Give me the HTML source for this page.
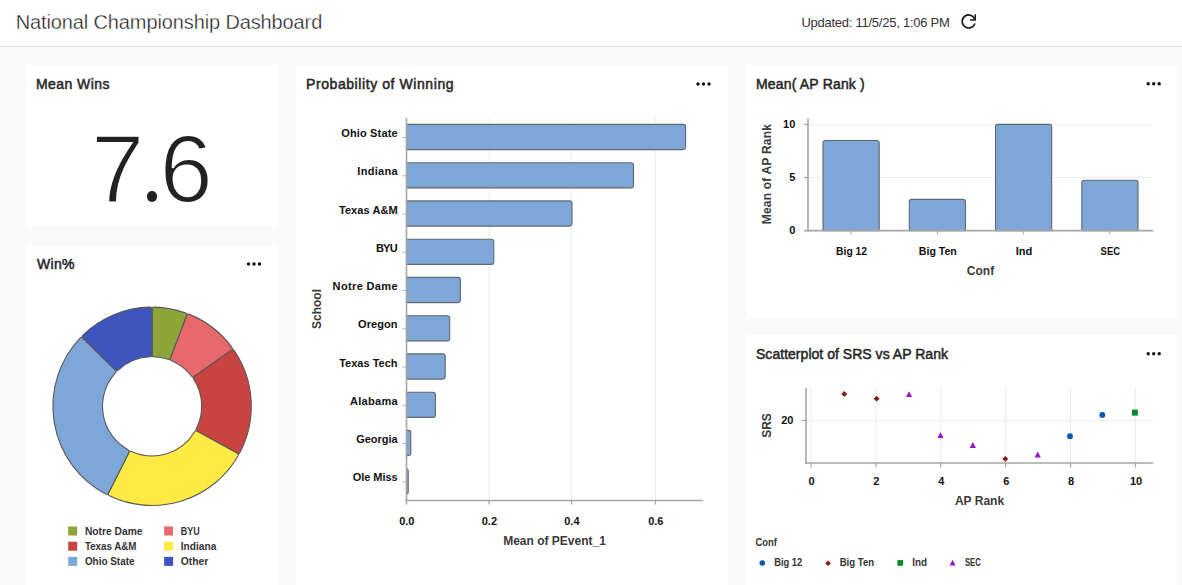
<!DOCTYPE html>
<html>
<head>
<meta charset="utf-8">
<title>National Championship Dashboard</title>
<style>
html,body{margin:0;padding:0;}
body{width:1182px;height:585px;overflow:hidden;background:#fafafa;font-family:"Liberation Sans",sans-serif;position:relative;}
.hdr{position:absolute;left:0;top:0;width:1182px;height:46px;background:#fff;border-bottom:1px solid #dedede;}
.ttl{position:absolute;left:15.7px;top:9px;font-size:20px;line-height:26px;color:#1c1c1c;white-space:nowrap;letter-spacing:-0.12px;-webkit-text-stroke:0.35px #fff;}
.upd{position:absolute;left:801.4px;top:14px;font-size:13px;line-height:18px;color:#333;white-space:nowrap;letter-spacing:-0.25px;}
.card{position:absolute;background:#fff;overflow:hidden;}
.ct{position:absolute;left:10px;top:9px;font-size:14px;line-height:20px;color:#262626;white-space:nowrap;-webkit-text-stroke:0.5px #262626;}
.big{position:absolute;top:53.5px;font-size:96px;line-height:100px;color:#222;-webkit-text-stroke:2px #fff;}
.bdot{position:absolute;left:120.9px;top:126px;width:10.6px;height:10.6px;border-radius:50%;background:#222;}
svg{position:absolute;left:0;top:0;}
svg text{font-family:"Liberation Sans",sans-serif;font-weight:bold;}
.tk{font-size:11px;fill:#111;}
.ax{font-size:12px;fill:#3a3a3a;}
.lg{font-size:10.3px;fill:#333;}
</style>
</head>
<body>
<div class="hdr">
  <div class="ttl">National Championship Dashboard</div>
  <div class="upd">Updated: 11/5/25, 1:06 PM</div>
  <svg width="1182" height="46" viewBox="0 0 1182 46">
    <g fill="none" stroke="#1a1a1a" stroke-width="1.5">
      <path d="M975.0 19.9 A6.5 6.5 0 1 0 974.9 23.4" stroke-width="1.65"/>
      <path d="M975.2 14.2 V20 H970.1"/>
    </g>
  </svg>
</div>

<!-- Card 1 -->
<div class="card" style="left:26px;top:65px;width:252px;height:162px;">
  <div class="ct" style="letter-spacing:0.43px">Mean Wins</div>
  <div class="big" style="left:65px">7</div><div class="bdot"></div><div class="big" style="left:133.5px">6</div>
</div>

<!-- Card 2 -->
<div class="card" style="left:26px;top:245px;width:252px;height:342px;">
  <div class="ct" style="letter-spacing:0.3px;left:11px">Win%</div>
  <svg id="s2" width="252" height="342" viewBox="26 245 252 342">
<path d="M154.10 307.12 A99.2 99.2 0 0 1 185.63 312.94 Q187.51 313.63 186.79 315.50 L170.52 358.10 Q169.80 359.97 167.92 359.29 A49.6 49.6 0 0 0 154.10 356.74 Q152.10 356.70 152.10 354.70 L152.10 309.10 Q152.10 307.10 154.10 307.12 Z" fill="#8ba539" stroke="#585858" stroke-width="1.1" stroke-linejoin="round"/>
<path d="M189.37 314.37 A99.2 99.2 0 0 1 231.88 347.34 Q233.05 348.96 231.42 350.12 L194.21 376.48 Q192.58 377.63 191.39 376.02 A49.6 49.6 0 0 0 171.66 360.72 Q169.80 359.97 170.52 358.10 L186.79 315.50 Q187.51 313.63 189.37 314.37 Z" fill="#e8696b" stroke="#585858" stroke-width="1.1" stroke-linejoin="round"/>
<path d="M234.19 350.61 A99.2 99.2 0 0 1 239.92 452.44 Q238.97 454.20 237.22 453.24 L197.29 431.22 Q195.53 430.25 196.46 428.48 A49.6 49.6 0 0 0 193.70 379.29 Q192.58 377.63 194.21 376.48 L231.42 350.12 Q233.05 348.96 234.19 350.61 Z" fill="#c84441" stroke="#585858" stroke-width="1.1" stroke-linejoin="round"/>
<path d="M237.98 455.94 A99.2 99.2 0 0 1 109.32 495.80 Q107.52 494.92 108.42 493.13 L128.91 452.40 Q129.81 450.61 131.62 451.47 A49.6 49.6 0 0 0 194.53 431.98 Q195.53 430.25 197.29 431.22 L237.22 453.24 Q238.97 454.20 237.98 455.94 Z" fill="#ffeb43" stroke="#585858" stroke-width="1.1" stroke-linejoin="round"/>
<path d="M105.75 494.00 A99.2 99.2 0 0 1 80.12 338.04 Q81.51 336.60 82.94 338.00 L115.38 370.04 Q116.81 371.45 115.43 372.90 A49.6 49.6 0 0 0 128.04 449.68 Q129.81 450.61 128.91 452.40 L108.42 493.13 Q107.52 494.92 105.75 494.00 Z" fill="#7da7d9" stroke="#585858" stroke-width="1.1" stroke-linejoin="round"/>
<path d="M82.93 335.19 A99.2 99.2 0 0 1 150.10 307.12 Q152.10 307.10 152.10 309.10 L152.10 354.70 Q152.10 356.70 150.10 356.74 A49.6 49.6 0 0 0 118.24 370.06 Q116.81 371.45 115.38 370.04 L82.94 338.00 Q81.51 336.60 82.93 335.19 Z" fill="#3e55be" stroke="#585858" stroke-width="1.1" stroke-linejoin="round"/>
<rect x="68.2" y="526.5" width="9" height="9" fill="#8ba539"/>
<text class="lg" x="84.9" y="534.8" textLength="57.6" lengthAdjust="spacingAndGlyphs">Notre Dame</text>
<rect x="68.2" y="541.7" width="9" height="9" fill="#c84441"/>
<text class="lg" x="84.9" y="550.0" textLength="51.6" lengthAdjust="spacingAndGlyphs">Texas A&amp;M</text>
<rect x="68.2" y="556.9" width="9" height="9" fill="#7da7d9"/>
<text class="lg" x="84.9" y="565.2" textLength="49.6" lengthAdjust="spacingAndGlyphs">Ohio State</text>
<rect x="164.1" y="526.5" width="9" height="9" fill="#e8696b"/>
<text class="lg" x="180.8" y="534.8" textLength="18.9" lengthAdjust="spacingAndGlyphs">BYU</text>
<rect x="164.1" y="541.7" width="9" height="9" fill="#ffeb43"/>
<text class="lg" x="180.8" y="550.0" textLength="35.5" lengthAdjust="spacingAndGlyphs">Indiana</text>
<rect x="164.1" y="556.9" width="9" height="9" fill="#3e55be"/>
<text class="lg" x="180.8" y="565.2" textLength="27.6" lengthAdjust="spacingAndGlyphs">Other</text>
<circle cx="248.5" cy="264" r="1.7" fill="#111"/><circle cx="254.0" cy="264" r="1.7" fill="#111"/><circle cx="259.5" cy="264" r="1.7" fill="#111"/>
</svg>
</div>

<!-- Card 3 -->
<div class="card" style="left:296px;top:65px;width:432px;height:522px;">
  <div class="ct" style="letter-spacing:0.58px">Probability of Winning</div>
  <svg id="s3" width="432" height="522" viewBox="296 65 432 522">
<line x1="489.1" y1="118" x2="489.1" y2="500.5" stroke="#ececec" stroke-width="1"/>
<line x1="571.6" y1="118" x2="571.6" y2="500.5" stroke="#ececec" stroke-width="1"/>
<line x1="655.5" y1="118" x2="655.5" y2="500.5" stroke="#ececec" stroke-width="1"/>
<path d="M406.5 124.4 H683.1 Q685.6 124.4 685.6 126.9 V147.1 Q685.6 149.6 683.1 149.6 H406.5 Z" fill="#7da7d9" stroke="#5f6770" stroke-width="1.1"/>
<line x1="402" y1="137.5" x2="406" y2="137.5" stroke="#b8b8b8" stroke-width="1"/>
<text class="tk" x="341.2" y="137.1" textLength="56.4" lengthAdjust="spacing">Ohio State</text>
<path d="M406.5 162.7 H631.0 Q633.5 162.7 633.5 165.2 V185.4 Q633.5 187.9 631.0 187.9 H406.5 Z" fill="#7da7d9" stroke="#5f6770" stroke-width="1.1"/>
<line x1="402" y1="175.8" x2="406" y2="175.8" stroke="#b8b8b8" stroke-width="1"/>
<text class="tk" x="357.3" y="175.4" textLength="40.3" lengthAdjust="spacing">Indiana</text>
<path d="M406.5 200.9 H569.5 Q572.0 200.9 572.0 203.4 V223.6 Q572.0 226.1 569.5 226.1 H406.5 Z" fill="#7da7d9" stroke="#5f6770" stroke-width="1.1"/>
<line x1="402" y1="214.0" x2="406" y2="214.0" stroke="#b8b8b8" stroke-width="1"/>
<text class="tk" x="338.9" y="213.6" textLength="58.7" lengthAdjust="spacing">Texas A&amp;M</text>
<path d="M406.5 239.2 H491.3 Q493.8 239.2 493.8 241.7 V261.9 Q493.8 264.4 491.3 264.4 H406.5 Z" fill="#7da7d9" stroke="#5f6770" stroke-width="1.1"/>
<line x1="402" y1="252.3" x2="406" y2="252.3" stroke="#b8b8b8" stroke-width="1"/>
<text class="tk" x="375.9" y="251.9" textLength="21.7" lengthAdjust="spacing">BYU</text>
<path d="M406.5 277.4 H457.9 Q460.4 277.4 460.4 279.9 V300.1 Q460.4 302.6 457.9 302.6 H406.5 Z" fill="#7da7d9" stroke="#5f6770" stroke-width="1.1"/>
<line x1="402" y1="290.5" x2="406" y2="290.5" stroke="#b8b8b8" stroke-width="1"/>
<text class="tk" x="332.6" y="290.1" textLength="65" lengthAdjust="spacing">Notre Dame</text>
<path d="M406.5 315.7 H447.2 Q449.7 315.7 449.7 318.2 V338.4 Q449.7 340.9 447.2 340.9 H406.5 Z" fill="#7da7d9" stroke="#5f6770" stroke-width="1.1"/>
<line x1="402" y1="328.8" x2="406" y2="328.8" stroke="#b8b8b8" stroke-width="1"/>
<text class="tk" x="358.1" y="328.4" textLength="39.5" lengthAdjust="spacing">Oregon</text>
<path d="M406.5 353.9 H442.7 Q445.2 353.9 445.2 356.4 V376.6 Q445.2 379.1 442.7 379.1 H406.5 Z" fill="#7da7d9" stroke="#5f6770" stroke-width="1.1"/>
<line x1="402" y1="367.0" x2="406" y2="367.0" stroke="#b8b8b8" stroke-width="1"/>
<text class="tk" x="339.2" y="366.6" textLength="58.4" lengthAdjust="spacing">Texas Tech</text>
<path d="M406.5 392.2 H432.9 Q435.4 392.2 435.4 394.7 V414.9 Q435.4 417.4 432.9 417.4 H406.5 Z" fill="#7da7d9" stroke="#5f6770" stroke-width="1.1"/>
<line x1="402" y1="405.3" x2="406" y2="405.3" stroke="#b8b8b8" stroke-width="1"/>
<text class="tk" x="349.9" y="404.9" textLength="47.7" lengthAdjust="spacing">Alabama</text>
<path d="M406.5 430.4 H408.3 Q410.8 430.4 410.8 432.9 V453.1 Q410.8 455.6 408.3 455.6 H406.5 Z" fill="#7da7d9" stroke="#5f6770" stroke-width="1.1"/>
<line x1="402" y1="443.5" x2="406" y2="443.5" stroke="#b8b8b8" stroke-width="1"/>
<text class="tk" x="356.2" y="443.1" textLength="41.4" lengthAdjust="spacing">Georgia</text>
<path d="M406.5 468.7 H406.5 Q408.2 468.7 408.2 470.4 V492.2 Q408.2 493.9 406.5 493.9 H406.5 Z" fill="#7da7d9" stroke="#5f6770" stroke-width="1.1"/>
<line x1="402" y1="481.8" x2="406" y2="481.8" stroke="#b8b8b8" stroke-width="1"/>
<text class="tk" x="352.8" y="481.4" textLength="44.8" lengthAdjust="spacing">Ole Miss</text>
<line x1="406.5" y1="118" x2="406.5" y2="504.5" stroke="#a6a6a6" stroke-width="1.6"/>
<line x1="405.7" y1="500.5" x2="703" y2="500.5" stroke="#a6a6a6" stroke-width="1.6"/>
<line x1="489.1" y1="500.5" x2="489.1" y2="504.5" stroke="#a6a6a6" stroke-width="1.2"/>
<line x1="571.6" y1="500.5" x2="571.6" y2="504.5" stroke="#a6a6a6" stroke-width="1.2"/>
<line x1="655.5" y1="500.5" x2="655.5" y2="504.5" stroke="#a6a6a6" stroke-width="1.2"/>
<text class="tk" text-anchor="middle" x="406.8" y="524.7">0.0</text>
<text class="tk" text-anchor="middle" x="489.4" y="524.7">0.2</text>
<text class="tk" text-anchor="middle" x="571.9" y="524.7">0.4</text>
<text class="tk" text-anchor="middle" x="655.8" y="524.7">0.6</text>
<text class="ax" text-anchor="middle" x="554.5" y="544.5">Mean of PEvent_1</text>
<text class="ax" text-anchor="middle" transform="translate(320.8 309) rotate(-90)">School</text>
<circle cx="698.0" cy="84" r="1.7" fill="#111"/><circle cx="703.5" cy="84" r="1.7" fill="#111"/><circle cx="709.0" cy="84" r="1.7" fill="#111"/>
</svg>
</div>

<!-- Card 4 -->
<div class="card" style="left:746px;top:65px;width:432px;height:252px;">
  <div class="ct" style="letter-spacing:0.17px">Mean( AP Rank )</div>
  <svg id="s4" width="432" height="252" viewBox="746 65 432 252">
<line x1="808" y1="177.5" x2="1153" y2="177.5" stroke="#ececec" stroke-width="1"/>
<line x1="808" y1="124.4" x2="1153" y2="124.4" stroke="#ececec" stroke-width="1"/>
<path d="M823.0 230.6 V143.0 Q823.0 140.5 825.5 140.5 H876.7 Q879.2 140.5 879.2 143.0 V230.6 Z" fill="#7da7d9" stroke="#5f6770" stroke-width="1.1"/>
<line x1="851.1" y1="230.6" x2="851.1" y2="234.6" stroke="#a8a8a8" stroke-width="1"/>
<text class="tk" x="836.1" y="255.2" textLength="30.9" lengthAdjust="spacingAndGlyphs">Big 12</text>
<path d="M909.3 230.6 V201.9 Q909.3 199.4 911.8 199.4 H963.0 Q965.5 199.4 965.5 201.9 V230.6 Z" fill="#7da7d9" stroke="#5f6770" stroke-width="1.1"/>
<line x1="937.4" y1="230.6" x2="937.4" y2="234.6" stroke="#a8a8a8" stroke-width="1"/>
<text class="tk" x="918.8" y="255.2" textLength="38" lengthAdjust="spacingAndGlyphs">Big Ten</text>
<path d="M995.5 230.6 V126.9 Q995.5 124.4 998.0 124.4 H1049.2 Q1051.7 124.4 1051.7 126.9 V230.6 Z" fill="#7da7d9" stroke="#5f6770" stroke-width="1.1"/>
<line x1="1023.6" y1="230.6" x2="1023.6" y2="234.6" stroke="#a8a8a8" stroke-width="1"/>
<text class="tk" x="1015.7" y="255.2" textLength="16.6" lengthAdjust="spacingAndGlyphs">Ind</text>
<path d="M1081.8 230.6 V182.8 Q1081.8 180.3 1084.3 180.3 H1135.5 Q1138.0 180.3 1138.0 182.8 V230.6 Z" fill="#7da7d9" stroke="#5f6770" stroke-width="1.1"/>
<line x1="1109.9" y1="230.6" x2="1109.9" y2="234.6" stroke="#a8a8a8" stroke-width="1"/>
<text class="tk" x="1100.6" y="255.2" textLength="19.4" lengthAdjust="spacingAndGlyphs">SEC</text>
<line x1="808" y1="118.5" x2="808" y2="231.4" stroke="#a6a6a6" stroke-width="1.6"/>
<line x1="804" y1="230.6" x2="1153" y2="230.6" stroke="#a6a6a6" stroke-width="1.6"/>
<text class="tk" text-anchor="end" x="795.3" y="234.3">0</text>
<line x1="804" y1="177.5" x2="808" y2="177.5" stroke="#a6a6a6" stroke-width="1.2"/>
<text class="tk" text-anchor="end" x="795.3" y="181.2">5</text>
<line x1="804" y1="124.4" x2="808" y2="124.4" stroke="#a6a6a6" stroke-width="1.2"/>
<text class="tk" text-anchor="end" x="795.3" y="128.1">10</text>
<text class="ax" text-anchor="middle" x="980.5" y="274.8">Conf</text>
<text class="ax" transform="translate(771.3 224.3) rotate(-90)" textLength="100.3" lengthAdjust="spacing">Mean of AP Rank</text>
<circle cx="1148.2" cy="83.7" r="1.7" fill="#111"/><circle cx="1153.7" cy="83.7" r="1.7" fill="#111"/><circle cx="1159.2" cy="83.7" r="1.7" fill="#111"/>
</svg>
</div>

<!-- Card 5 -->
<div class="card" style="left:746px;top:335px;width:432px;height:252px;">
  <div class="ct" style="letter-spacing:0.03px;left:10px">Scatterplot of SRS vs AP Rank</div>
  <svg id="s5" width="432" height="252" viewBox="746 335 432 252">
<line x1="811.0" y1="388" x2="811.0" y2="463" stroke="#ececec" stroke-width="1"/>
<line x1="875.9" y1="388" x2="875.9" y2="463" stroke="#ececec" stroke-width="1"/>
<line x1="940.8" y1="388" x2="940.8" y2="463" stroke="#ececec" stroke-width="1"/>
<line x1="1005.7" y1="388" x2="1005.7" y2="463" stroke="#ececec" stroke-width="1"/>
<line x1="1070.6" y1="388" x2="1070.6" y2="463" stroke="#ececec" stroke-width="1"/>
<line x1="1135.5" y1="388" x2="1135.5" y2="463" stroke="#ececec" stroke-width="1"/>
<line x1="806" y1="420.5" x2="1153" y2="420.5" stroke="#ececec" stroke-width="1"/>
<line x1="806" y1="388" x2="806" y2="463.8" stroke="#a6a6a6" stroke-width="1.6"/>
<line x1="805.1" y1="463" x2="1153" y2="463" stroke="#a6a6a6" stroke-width="1.6"/>
<line x1="801.5" y1="420.5" x2="806" y2="420.5" stroke="#a6a6a6" stroke-width="1.2"/>
<line x1="811.0" y1="463" x2="811.0" y2="467.5" stroke="#a6a6a6" stroke-width="1.2"/>
<text class="tk" text-anchor="middle" x="811.5" y="484.7">0</text>
<line x1="875.9" y1="463" x2="875.9" y2="467.5" stroke="#a6a6a6" stroke-width="1.2"/>
<text class="tk" text-anchor="middle" x="876.4" y="484.7">2</text>
<line x1="940.8" y1="463" x2="940.8" y2="467.5" stroke="#a6a6a6" stroke-width="1.2"/>
<text class="tk" text-anchor="middle" x="941.3" y="484.7">4</text>
<line x1="1005.7" y1="463" x2="1005.7" y2="467.5" stroke="#a6a6a6" stroke-width="1.2"/>
<text class="tk" text-anchor="middle" x="1006.2" y="484.7">6</text>
<line x1="1070.6" y1="463" x2="1070.6" y2="467.5" stroke="#a6a6a6" stroke-width="1.2"/>
<text class="tk" text-anchor="middle" x="1071.1" y="484.7">8</text>
<line x1="1135.5" y1="463" x2="1135.5" y2="467.5" stroke="#a6a6a6" stroke-width="1.2"/>
<text class="tk" text-anchor="middle" x="1136.0" y="484.7">10</text>
<text class="tk" text-anchor="end" x="793.5" y="424.2">20</text>
<path d="M844.3 391.1 L847.2 394.0 L844.3 396.9 L841.3 394.0 Z" fill="#8e1616"/>
<path d="M876.6 395.8 L879.6 398.7 L876.6 401.6 L873.6 398.7 Z" fill="#8e1616"/>
<path d="M909 391.2 L912.1 397.1 L905.9 397.1 Z" fill="#9a14c8"/>
<path d="M940.5 432.0 L943.6 437.9 L937.4 437.9 Z" fill="#9a14c8"/>
<path d="M972.8 442.0 L975.9 447.9 L969.7 447.9 Z" fill="#9a14c8"/>
<path d="M1005.3 455.9 L1008.2 458.9 L1005.3 461.8 L1002.3 458.9 Z" fill="#8e1616"/>
<path d="M1037.7 451.5 L1040.8 457.4 L1034.6 457.4 Z" fill="#9a14c8"/>
<circle cx="1070" cy="436.2" r="2.9" fill="#0a55b0"/>
<circle cx="1102.3" cy="414.9" r="2.9" fill="#0a55b0"/>
<rect x="1131.9" y="409.6" width="6.0" height="6.0" fill="#0c8a2a"/>
<text class="ax" text-anchor="middle" x="979.5" y="504.6">AP Rank</text>
<text class="ax" text-anchor="middle" transform="translate(771 425.5) rotate(-90)">SRS</text>
<text class="lg" x="755.5" y="546.1" textLength="21.3" lengthAdjust="spacingAndGlyphs">Conf</text>
<circle cx="762.3" cy="563" r="2.8" fill="#0a55b0"/>
<text class="lg" x="774.2" y="566.2" textLength="28.0" lengthAdjust="spacingAndGlyphs">Big 12</text>
<path d="M828.1 560.4 L830.9 563.2 L828.1 566.0 L825.3 563.2 Z" fill="#8e1616"/>
<text class="lg" x="839.7" y="566.2" textLength="34.4" lengthAdjust="spacingAndGlyphs">Big Ten</text>
<rect x="897.4" y="560.1" width="5.7" height="5.7" fill="#0c8a2a"/>
<text class="lg" x="912.3" y="566.2" textLength="14.8" lengthAdjust="spacingAndGlyphs">Ind</text>
<path d="M952.6 559.8 L955.5 565.4 L949.7 565.4 Z" fill="#9a14c8"/>
<text class="lg" x="964.9" y="566.2" textLength="15.9" lengthAdjust="spacingAndGlyphs">SEC</text>
<circle cx="1148.2" cy="353.7" r="1.7" fill="#111"/><circle cx="1153.7" cy="353.7" r="1.7" fill="#111"/><circle cx="1159.2" cy="353.7" r="1.7" fill="#111"/>
</svg>
</div>
</body>
</html>
